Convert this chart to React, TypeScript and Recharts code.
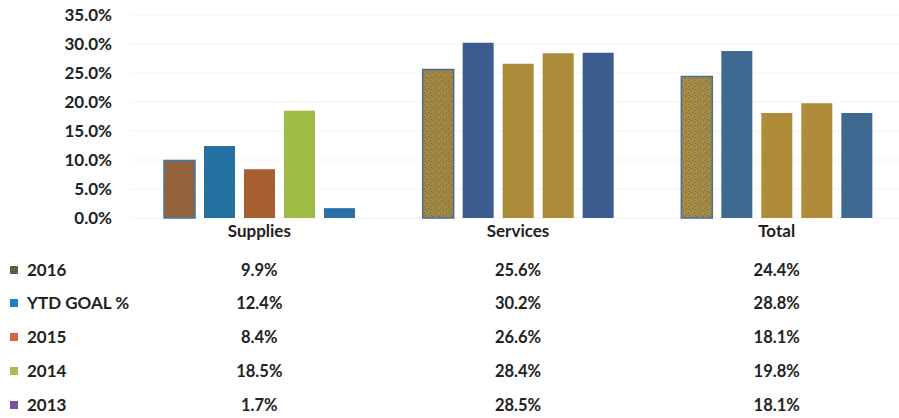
import React from 'react';
import { BarChart, Bar, XAxis, YAxis, CartesianGrid, Cell } from 'recharts';

const categories = ['Supplies', 'Services', 'Total'];
const seriesNames = ['2016', 'YTD GOAL %', '2015', '2014', '2013'];
const s2016 = [9.9, 25.6, 24.4];
const sGoal = [12.4, 30.2, 28.8];
const s2015 = [8.4, 26.6, 18.1];
const s2014 = [18.5, 28.4, 19.8];
const s2013 = [1.7, 28.5, 18.1];
const yTicks = [0, 5, 10, 15, 20, 25, 30, 35];

const seriesValues = [s2016, sGoal, s2015, s2014, s2013];
const seriesKeys = ['y2016', 'goal', 'y2015', 'y2014', 'y2013'];

const data = categories.map((name, i) => {
  const row: Record<string, any> = { name };
  seriesKeys.forEach((k, j) => (row[k] = seriesValues[j][i]));
  return row;
});

// colours per series, per category (as scanned)
const BAR_COLORS = [
  ['url(#speckOrange)', 'url(#speckGold)', 'url(#speckGold2)'],
  ['#2470a0', '#3c5c90', '#3e6a92'],
  ['#a65f30', '#ab8a3a', '#ae8c3a'],
  ['#9fbd45', '#ab8a3a', '#ae8c3a'],
  ['#2a6fa5', '#3c5c90', '#3e6a92'],
];
const BAR_STROKES = [
  ['#3a78a8', '#4a6a98', '#456f98'],
  [null, null, null],
  [null, null, null],
  [null, null, null],
  [null, null, null],
];
const LEGEND_COLORS = ['url(#speckOlive)', '#1f7fc8', '#e0603a', '#a5c050', '#7a50a0'];

const FONT = "Lato, 'Liberation Sans', Arial, sans-serif";
const ROW_Y = [270, 303, 337, 371, 405];

const CategoryTick = (props: any) => {
  const { x, y, payload } = props;
  const idx = payload.index;
  return (
    <g>
      <text x={x} y={y + 11} textAnchor="middle" fontFamily={FONT} fontSize={17} fontWeight="bold" fill="#222">
        {payload.value}
      </text>
      {seriesValues.map((vals, j) => (
        <text key={j} x={x} y={ROW_Y[j] + 6} textAnchor="middle" fontFamily={FONT} fontSize={16.5} fontWeight="bold" fill="#222">
          {vals[idx].toFixed(1)}%
        </text>
      ))}
    </g>
  );
};

const speck = (id: string, base: string, dot: string) => (
  <pattern id={id} width="6" height="6" patternUnits="userSpaceOnUse">
    <rect width="6" height="6" fill={base} />
    <rect x="1" y="0" width="1" height="1" fill={dot} />
    <rect x="4" y="2" width="1" height="1" fill={dot} />
    <rect x="2" y="4" width="1" height="1" fill={dot} />
    <rect x="5" y="5" width="1" height="1" fill={dot} />
  </pattern>
);

export default function App() {
  return (
    <div style={{ position: 'absolute', left: 0, top: 0, width: 899, height: 418, overflow: 'hidden', background: '#fff' }}>
      <style>{'body{margin:0;overflow:hidden}'}</style>
      <BarChart
        width={906}
        height={418}
        data={data}
        margin={{ top: 15, right: 0, bottom: 0, left: 0 }}
        barSize={31}
        barGap={9}
        barCategoryGap={33}
      >
        <defs>
          {speck('speckOrange', '#a0602e', '#3a78a8')}
          {speck('speckGold', '#a98738', '#4a6a98')}
          {speck('speckGold2', '#ab8a3a', '#456f98')}
          {speck('speckOlive', '#5a5a3a', '#8a8a60')}
        </defs>
        <CartesianGrid vertical={false} stroke="#f3f3f3" />
        <YAxis
          width={130}
          domain={[0, 35]}
          ticks={yTicks}
          interval={0}
          axisLine={false}
          tickLine={false}
          tickMargin={12}
          tickFormatter={(v: number) => `${v.toFixed(1)}%`}
          tick={{ fontFamily: FONT, fontSize: 17, fontWeight: 'bold', fill: '#222' }}
        />
        <XAxis
          dataKey="name"
          height={200}
          axisLine={false}
          tickLine={false}
          interval={0}
          tick={<CategoryTick />}
        />
        {seriesKeys.map((k, j) => (
          <Bar key={k} dataKey={k} name={seriesNames[j]} isAnimationActive={false}>
            {categories.map((c, i) => (
              <Cell
                key={c}
                fill={BAR_COLORS[j][i]}
                stroke={BAR_STROKES[j][i] || 'none'}
                strokeWidth={BAR_STROKES[j][i] ? 1.5 : 0}
              />
            ))}
          </Bar>
        ))}
        <g>
          {seriesNames.map((n, j) => (
            <g key={n}>
              <rect x={10} y={ROW_Y[j] - 4} width={8} height={8} fill={LEGEND_COLORS[j]} />
              <text x={27} y={ROW_Y[j] + 6} fontFamily={FONT} fontSize={17} fontWeight="bold" fill="#222">
                {n}
              </text>
            </g>
          ))}
        </g>
      </BarChart>
    </div>
  );
}
